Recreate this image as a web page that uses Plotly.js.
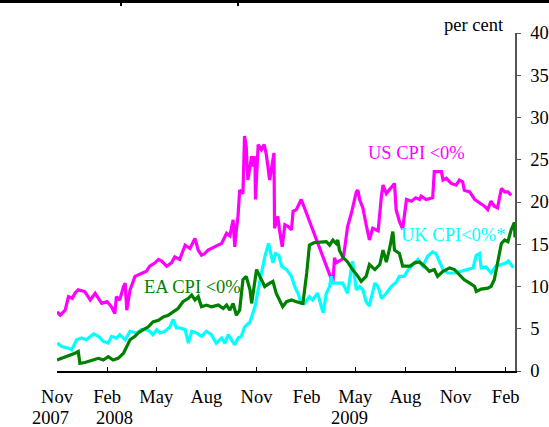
<!DOCTYPE html>
<html>
<head>
<meta charset="utf-8">
<script src="https://cdn.plot.ly/plotly-3.0.1.min.js"></script>
<style>
html,body{margin:0;padding:0;background:#fff;}
#chart{width:549px;height:427px;}
</style>
</head>
<body>
<div id="chart"></div>
<script>
const usDates = ['2007-11-01','2007-11-07','2007-11-16','2007-11-22','2007-11-29','2007-12-04','2007-12-10','2007-12-22','2008-01-01','2008-01-10','2008-01-22','2008-02-01','2008-02-09','2008-02-15','2008-02-18','2008-02-24','2008-03-02','2008-03-05','2008-03-08','2008-03-14','2008-03-23','2008-04-04','2008-04-13','2008-04-19','2008-04-29','2008-05-05','2008-05-11','2008-05-20','2008-05-29','2008-06-04','2008-06-13','2008-06-23','2008-07-02','2008-07-11','2008-07-17','2008-07-23','2008-07-29','2008-08-04','2008-08-10','2008-08-16','2008-08-29','2008-09-07','2008-09-13','2008-09-19','2008-09-22','2008-09-25','2008-09-28','2008-10-01','2008-10-07','2008-10-10','2008-10-13','2008-10-16','2008-10-23','2008-10-26','2008-10-29','2008-10-30','2008-11-04','2008-11-10','2008-11-15','2008-11-19','2008-11-25','2008-11-28','2008-12-03','2008-12-04','2008-12-10','2008-12-13','2008-12-18','2008-12-23','2008-12-29','2009-01-04','2009-01-07','2009-01-13','2009-01-22','2009-03-21','2009-03-24','2009-03-27','2009-04-02','2009-04-09','2009-04-17','2009-04-24','2009-05-03','2009-05-06','2009-05-09','2009-05-15','2009-05-21','2009-05-27','2009-06-02','2009-06-12','2009-06-18','2009-06-21','2009-06-27','2009-07-06','2009-07-12','2009-07-15','2009-07-21','2009-07-27','2009-08-03','2009-08-12','2009-08-20','2009-08-27','2009-08-30','2009-09-08','2009-09-20','2009-09-23','2009-10-06','2009-10-09','2009-10-15','2009-10-24','2009-11-02','2009-11-08','2009-11-14','2009-11-17','2009-11-27','2009-12-06','2009-12-15','2009-12-24','2009-12-30','2010-01-05','2010-01-11','2010-01-17','2010-01-24','2010-01-30','2010-02-05','2010-02-11'];
const usValues = [7.0,6.6,7.2,8.8,8.6,9.2,9.6,9.4,8.4,9.2,8.0,8.2,7.6,6.8,8.8,8.4,10.0,10.4,7.2,9.6,11.2,11.6,11.8,12.4,12.8,13.2,13.0,12.4,12.8,13.5,13.2,14.9,14.5,15.7,14.3,13.7,13.9,14.3,14.5,14.7,15.1,16.3,16.0,17.9,14.7,16.7,18.3,21.4,21.0,27.8,26.6,22.6,25.4,24.2,25.4,20.3,26.8,26.2,26.8,25.6,22.6,23.8,25.8,16.9,18.3,16.7,14.7,17.3,17.1,16.7,18.9,19.1,20.3,10.4,13.4,12.8,13.0,13.3,17.1,18.7,21.2,21.4,20.3,19.3,17.3,15.5,16.9,16.6,20.7,22.0,21.0,21.8,22.2,19.1,17.7,16.8,20.3,20.1,20.5,20.3,20.7,20.3,20.5,23.6,23.6,22.6,22.8,22.2,22.0,22.6,22.4,21.4,21.2,20.3,19.9,19.5,19.1,20.1,19.5,19.3,21.6,21.2,21.2,20.8];

const ukDates = ['2007-11-01','2007-11-10','2007-11-22','2007-11-28','2007-12-07','2007-12-16','2007-12-25','2008-01-07','2008-01-16','2008-01-25','2008-02-03','2008-02-09','2008-02-18','2008-02-24','2008-03-05','2008-03-14','2008-03-26','2008-04-04','2008-04-13','2008-04-19','2008-04-25','2008-05-02','2008-05-08','2008-05-17','2008-05-26','2008-06-01','2008-06-07','2008-06-13','2008-06-23','2008-06-29','2008-07-05','2008-07-14','2008-07-23','2008-08-01','2008-08-10','2008-08-19','2008-08-29','2008-09-04','2008-09-10','2008-09-16','2008-09-22','2008-09-28','2008-10-04','2008-10-10','2008-10-20','2008-10-26','2008-10-29','2008-11-04','2008-11-10','2008-11-16','2008-11-23','2008-11-28','2008-12-01','2008-12-06','2008-12-12','2008-12-17','2008-12-26','2009-01-04','2009-01-10','2009-01-16','2009-01-22','2009-01-28','2009-02-06','2009-02-12','2009-02-21','2009-03-03','2009-03-09','2009-03-15','2009-03-18','2009-03-21','2009-03-30','2009-04-08','2009-04-17','2009-04-26','2009-05-03','2009-05-09','2009-05-15','2009-05-21','2009-05-27','2009-06-06','2009-06-12','2009-06-18','2009-06-27','2009-07-06','2009-07-15','2009-07-21','2009-07-30','2009-08-06','2009-08-15','2009-08-24','2009-09-02','2009-09-11','2009-09-20','2009-09-26','2009-10-02','2009-10-09','2009-10-18','2009-10-30','2009-11-11','2009-11-23','2009-12-03','2009-12-09','2009-12-15','2009-12-18','2009-12-27','2010-01-05','2010-01-14','2010-01-24','2010-02-02','2010-02-06','2010-02-11','2010-02-15'];
const ukValues = [3.3,2.9,2.7,2.5,3.7,3.9,3.7,4.4,4.1,3.5,3.3,4.1,3.9,4.3,3.7,4.7,4.5,4.9,4.9,4.7,4.3,4.9,4.5,4.7,5.2,6.1,5.1,5.1,4.9,3.3,4.7,4.5,4.1,4.7,4.3,3.3,3.9,3.3,4.3,3.7,3.1,3.9,4.1,5.2,5.8,7.0,7.6,9.6,11.6,13.5,15.1,13.5,12.8,13.9,13.7,12.4,12.0,11.2,10.0,9.2,8.0,8.0,8.8,8.4,9.2,6.9,9.2,10.0,11.2,10.4,10.4,10.4,9.2,13.0,9.6,10.0,9.6,8.2,7.7,10.4,10.0,8.6,9.2,10.0,10.5,11.2,11.2,12.0,12.6,13.2,12.4,13.6,14.1,13.9,13.0,12.0,11.6,11.6,11.8,12.0,12.2,13.7,13.9,12.2,12.3,11.6,12.4,12.6,12.8,13.0,12.6,12.2];

const eaDates = ['2007-11-01','2007-11-10','2007-11-22','2007-12-04','2007-12-10','2007-12-13','2007-12-22','2008-01-04','2008-01-16','2008-01-25','2008-02-03','2008-02-12','2008-02-21','2008-03-02','2008-03-08','2008-03-14','2008-03-23','2008-03-29','2008-04-07','2008-04-16','2008-04-25','2008-05-05','2008-05-14','2008-05-23','2008-06-01','2008-06-10','2008-06-19','2008-06-29','2008-07-05','2008-07-11','2008-07-17','2008-07-23','2008-08-01','2008-08-10','2008-08-23','2008-09-01','2008-09-07','2008-09-13','2008-09-19','2008-09-25','2008-10-01','2008-10-07','2008-10-13','2008-10-20','2008-10-23','2008-11-01','2008-11-07','2008-11-16','2008-11-25','2008-12-01','2008-12-07','2008-12-13','2008-12-19','2008-12-26','2009-01-04','2009-01-13','2009-01-25','2009-02-01','2009-02-06','2009-02-15','2009-02-28','2009-03-09','2009-03-15','2009-03-21','2009-03-27','2009-03-30','2009-04-02','2009-04-08','2009-04-17','2009-04-26','2009-05-06','2009-05-12','2009-05-21','2009-05-27','2009-06-06','2009-06-15','2009-06-21','2009-06-27','2009-07-03','2009-07-09','2009-07-12','2009-07-21','2009-07-27','2009-08-09','2009-08-18','2009-08-27','2009-09-05','2009-09-14','2009-09-23','2009-09-29','2009-10-09','2009-10-21','2009-10-30','2009-11-08','2009-11-17','2009-11-27','2009-12-06','2009-12-09','2009-12-18','2009-12-30','2010-01-05','2010-01-11','2010-01-17','2010-01-24','2010-01-30','2010-02-05','2010-02-11','2010-02-17','2010-02-18'];
const eaValues = [1.3,1.5,1.8,2.1,2.3,0.9,1.0,1.3,1.5,1.3,1.7,1.3,1.5,2.1,2.9,3.7,4.1,4.5,4.9,5.2,5.8,6.0,6.4,6.6,7.0,7.4,8.2,8.6,9.0,8.4,8.8,7.6,7.8,7.6,7.8,7.4,7.8,7.2,8.0,6.6,7.2,10.8,11.2,9.6,8.0,12.0,11.2,10.0,10.4,10.6,9.2,8.4,7.6,8.2,8.4,8.2,8.0,11.6,14.9,15.2,15.3,15.3,14.9,15.5,15.1,15.5,14.3,13.5,12.9,12.0,11.2,10.6,11.2,12.6,12.0,12.6,14.3,12.9,14.5,16.5,14.3,13.9,12.4,12.4,12.8,12.9,12.4,11.8,12.0,11.2,11.8,12.2,12.0,11.4,10.8,10.4,10.0,9.4,9.7,9.8,10.0,10.8,12.8,15.1,15.5,15.3,16.7,17.6,15.8];

const seriesLabels = ['US CPI <0%', 'UK CPI<0%*', 'EA CPI <0%'];
const seriesColors = ['#ff00ff', '#00ffff', '#008000'];
const tickDates = ['2007-11-01','2008-02-01','2008-05-01','2008-08-01','2008-11-01','2009-02-01','2009-05-01','2009-08-01','2009-11-01','2010-02-01'];
const tickLabels = ['Nov','Feb','May','Aug','Nov','Feb','May','Aug','Nov','Feb'];
const yearLabels = ['2007','2008','2009'];
const unitLabel = 'per cent';

const FONT = '"Liberation Serif", "Times New Roman", serif';
const FS = 18.5;

const traces = [
  {x: usDates, y: usValues, name: seriesLabels[0]},
  {x: ukDates, y: ukValues, name: seriesLabels[1]},
  {x: eaDates, y: eaValues, name: seriesLabels[2]}
].map((t, i) => Object.assign(t, {
  type: 'scatter', mode: 'lines',
  line: {color: seriesColors[i], width: 3.2},
  hoverinfo: 'skip'
}));

function txt(text, x, y, color) {
  return {text: text, xref: 'paper', yref: 'paper', x: x, y: y, showarrow: false,
          xanchor: 'center', yanchor: 'middle', font: {family: FONT, size: FS, color: color}};
}
function blk(x0, x1, y0, y1) {
  return {type: 'rect', xref: 'paper', yref: 'paper', x0: x0, x1: x1, y0: y0, y1: y1,
          line: {width: 0}, fillcolor: '#000'};
}
function bar(xc, yc, w, h) {
  return {text: ' ', xref: 'paper', yref: 'paper', x: xc, y: yc, showarrow: false,
          xanchor: 'center', yanchor: 'middle', width: w, height: h, borderpad: 0, borderwidth: 0,
          bgcolor: '#000', font: {size: 1, color: '#000'}};
}
const blackPx = 'data:image/svg+xml;utf8,' + encodeURIComponent('<svg xmlns="http://www.w3.org/2000/svg" width="10" height="10" preserveAspectRatio="none" viewBox="0 0 10 10"><rect width="10" height="10" fill="#000"/></svg>');

const layout = {
  width: 549, height: 427,
  margin: {l: 57, r: 34, t: 33, b: 56, pad: 0},
  paper_bgcolor: '#ffffff', plot_bgcolor: '#ffffff',
  showlegend: false,
  font: {family: FONT, size: FS, color: '#000'},
  xaxis: {
    type: 'date', range: ['2007-11-01', '2010-02-18'],
    tickmode: 'array', tickvals: tickDates, ticktext: tickLabels,
    ticks: 'inside', ticklen: 4, tickwidth: 1, tickcolor: '#000',
    showline: true, linecolor: '#000', linewidth: 1.5,
    showgrid: false, zeroline: false,
    ticklabelstandoff: 8,
    tickfont: {family: FONT, size: FS, color: '#000'},
    fixedrange: true
  },
  yaxis: {
    side: 'right', range: [0, 40], dtick: 5, tick0: 0,
    ticks: 'outside', ticklen: 4, tickwidth: 1, tickcolor: '#555',
    showline: true, linecolor: '#555', linewidth: 1.5,
    showgrid: false, zeroline: false,
    ticklabelstandoff: 6,
    tickfont: {family: FONT, size: FS, color: '#000'},
    fixedrange: true
  },
  shapes: [
    blk(-0.1244, 0, 1.0888, 1.0976),
    blk(0, 1, 1.0888, 1.0976),
    blk(1, 1.0742, 1.0888, 1.0976),
    blk(0.1376, 0.1419, 1.0799, 1.0888),
    blk(0.3930, 0.3974, 1.0799, 1.0888)
  ],
  images: [
    {source: blackPx, xref: 'paper', yref: 'paper', x: -0.1244, y: 1.0976, sizex: 1.1986, sizey: 0.0088,
     sizing: 'stretch', xanchor: 'left', yanchor: 'top', layer: 'above'}
  ],
  annotations: [
    txt(unitLabel, 0.9105, 1.0237, '#000'),
    txt(seriesLabels[0], 0.7854, 0.645, seriesColors[0]),
    txt(seriesLabels[1], 0.8653, 0.4024, seriesColors[1]),
    txt(seriesLabels[2], 0.2959, 0.25, seriesColors[2]),
    txt(yearLabels[0], -0.0138, -0.1405, '#000'),
    txt(yearLabels[1], 0.1266, -0.1405, '#000'),
    txt(yearLabels[2], 0.6376, -0.1405, '#000'),
    bar(0.0262, 1.0932, 140, 3),
    bar(0.3319, 1.0932, 140, 3),
    bar(0.6376, 1.0932, 140, 3),
    bar(0.9433, 1.0932, 140, 3),
    bar(0.1397, 1.0843, 2, 3),
    bar(0.3952, 1.0843, 2, 3)
  ]
};

Plotly.newPlot('chart', traces, layout, {displayModeBar: false, staticPlot: true});
</script>
</body>
</html>
